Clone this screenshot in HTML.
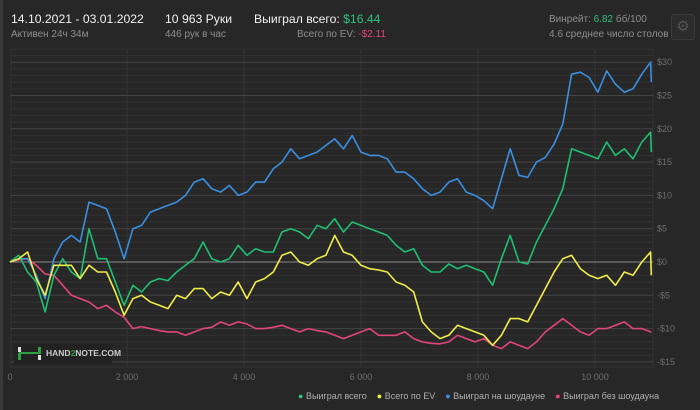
<!DOCTYPE html>
<html><head><meta charset="utf-8"><style>
body{margin:0;width:700px;height:410px;background:#272727;font-family:"Liberation Sans","DejaVu Sans",sans-serif;overflow:hidden;position:relative}
.t{position:absolute;white-space:nowrap}
.w{color:#f2f2f2;font-size:12.2px}
.g{color:#8e8e8e;font-size:10px}
</style></head><body>
<div style="position:absolute;left:0;top:0;width:3px;height:410px;background:#3a3a3a"></div>
<div class="t w" style="left:11px;top:12px">14.10.2021 - 03.01.2022</div>
<div class="t g" style="left:11px;top:29px">Активен 24ч 34м</div>
<div class="t w" style="left:165px;top:12px">10 963 Руки</div>
<div class="t g" style="left:165px;top:29px">446 рук в час</div>
<div class="t w" style="left:254px;top:12px">Выиграл всего: <span style="color:#2ec27e">$16.44</span></div>
<div class="t g" style="left:297px;top:29px">Всего по EV: <span style="color:#e0457b">-$2.11</span></div>
<div class="t g" style="left:549px;top:14px">Винрейт: <span style="color:#2ec27e">6.82</span> бб/100</div>
<div class="t g" style="left:549px;top:29px">4.6 среднее число столов</div>
<div style="position:absolute;left:671px;top:14px;width:22px;height:24px;border:1px solid #3a3a3a;border-radius:3px;background:#2c2c2c;color:#555;font-size:15px;text-align:center;line-height:24px">⚙</div>
<svg id="chart" width="700" height="410" style="position:absolute;left:0;top:0"></svg>
<div style="position:absolute;left:14px;top:344px;width:98px;height:20px;background:#222;">
 <div style="position:absolute;left:4px;top:3px;width:3px;height:5px;background:#ddd"></div>
 <div style="position:absolute;left:4px;top:9px;width:3px;height:7px;background:#2ea043"></div>
 <div style="position:absolute;left:5px;top:8px;width:20px;height:2px;background:#2ea043"></div>
 <div style="position:absolute;left:24px;top:3px;width:3px;height:7px;background:#2ea043"></div>
 <div style="position:absolute;left:24px;top:11px;width:3px;height:5px;background:#ddd"></div>
 <div class="t" style="left:32px;top:4px;font-size:8.5px;font-weight:bold;color:#ccc">HAND<span style="color:#2ea043">2</span>NOTE.COM</div>
</div>
<div class="t" style="left:298px;top:391px;font-size:9px;color:#b0b0b0">
 <span><span style="color:#2ec27e">●</span> Выиграл всего</span>&nbsp;&nbsp;&nbsp;
 <span><span style="color:#f0ec4a">●</span> Всего по EV</span>&nbsp;&nbsp;&nbsp;
 <span><span style="color:#3b8fe0">●</span> Выиграл на шоудауне</span>&nbsp;&nbsp;&nbsp;
 <span><span style="color:#e0457b">●</span> Выиграл без шоудауна</span>
</div>
<script>
const hands=[0,150,300,450,600,750,900,1050,1200,1350,1500,1650,1800,1950,2100,2250,2400,2550,2700,2850,3000,3150,3300,3450,3600,
3750,3900,4050,4200,4350,4500,4650,4800,4950,5100,5250,5400,5550,5700,5850,6000,6150,6300,6450,6600,6750,6900,7050,7200,7350,7500,
7650,7800,7950,8100,8250,8400,8550,8700,8850,9000,9150,9300,9450,9600,9750,9900,10050,10200,10350,10500,10650,10800,10950,10963];
const showdown=[0,0.5,0.5,-2,-5.5,0.5,3,4,3,9,8.5,8,4.5,0.5,5,5.5,7.5,8,8.5,9,10,12,12.5,11,10.5,
11.5,10,10.5,12,12,14,15,17,15.5,16,16.5,17.5,18.5,17,19,16.5,16,16,15.5,13.5,13.5,12.5,11,10,10.5,12,
12.5,10.5,10,9.2,8,12.5,17,13,12.7,15,15.7,17.7,20.7,28.2,28.5,27.7,25.5,28.7,26.7,25.5,26,28.2,30,27];
const total=[0,1,-1.5,-3,-7.5,-2,0.5,-1.5,-2.5,5,0.5,0.5,-3,-6.5,-3.5,-4.5,-3,-2.5,-2.8,-1.5,-0.5,0.5,3,0.5,0,
0.5,2.5,1,2,1.5,1.5,4.5,5,4.5,3.5,5.5,5,6.5,4.5,6,5.5,5,4.5,4,2.5,1.5,2,-0.5,-1.5,-1.5,-0.3,
-1,-0.5,-1,-1.5,-3.5,0.5,4,0,-0.3,3,5.5,8,11,17,16.5,16,15.5,18,16,17,15.5,18,19.5,16.5];
const ev=[0,0.5,1.5,-2.5,-5,-0.5,-0.5,-0.5,-2.5,-0.5,-1.5,-1.5,-4.5,-8,-5.5,-5,-6,-6.5,-7,-5,-5.5,-4,-4,-5.5,-4.5,
-5,-3,-5.5,-3,-2.5,-1.5,1,1.5,0,-0.5,0.5,1,4,1.5,1,-0.5,-1,-1.2,-1.5,-3,-3.5,-4.5,-9,-10.5,-11.5,-11,
-9.5,-10,-10.5,-11,-12.5,-11,-8.5,-8.5,-9,-6.5,-4,-1.5,0.5,1,-1,-2,-2.5,-2,-3.5,-1.5,-2,0,1.5,-2];
const nonshowdown=[0,0.3,0.5,-0.5,-1.8,-2,-3.5,-5,-5.5,-6,-7,-6.5,-7.5,-8.3,-10,-9.7,-10,-10.3,-10.5,-10.5,-11,-10.5,-10,-9.8,-9,
-9.5,-9,-9.3,-10,-10,-9.8,-9.5,-10,-10.5,-10,-10.3,-10.5,-11,-11.5,-11,-10.5,-10,-11,-11,-11,-10.5,-11.5,-12,-12.2,-12.3,-12,
-11,-11.5,-12,-11.5,-12.5,-13,-12,-12.5,-13,-12,-10.5,-9.5,-8.5,-9.5,-10.5,-11,-10,-10,-9.5,-9,-10,-10,-10.5,-10.5];
const xTicks=[0,2000,4000,6000,8000,10000];
const xTickLabels=["0","2 000","4 000","6 000","8 000","10 000"];
const yTicks=[30,25,20,15,10,5,0,-5,-10,-15];
const yTickLabels=["$30","$25","$20","$15","$10","$5","$0","-$5","-$10","-$15"];

const svg=document.getElementById('chart');
const NS='http://www.w3.org/2000/svg';
const X=h=>10+h*0.0585;
const Y=v=>262-v*6.66;
function mk(tag,attrs,parent){const e=document.createElementNS(NS,tag);for(const k in attrs)e.setAttribute(k,attrs[k]);(parent||svg).appendChild(e);return e;}
const frame=mk('rect',{x:11,y:49,width:642,height:318,fill:'none',stroke:'#333','stroke-width':1});


for(let v=-15;v<=32;v++){
  if(v%5===0)continue;
  const l=mk('line',{x1:11,x2:653,y1:Y(v),y2:Y(v),stroke:'#303030','stroke-width':1});
  
  
}
xTicks.forEach((t,i)=>{
  if(i>0){const l=mk('line',{x1:X(t),x2:X(t),y1:49,y2:367,stroke:'#343434','stroke-width':1});
  
  }
  const tx=mk('text',{x:X(t),y:380,fill:'#6e6e6e','font-size':9,'text-anchor':'middle','font-family':'Liberation Sans, sans-serif'});
  tx.textContent=xTickLabels[i];
  
  
});
yTicks.forEach((t,i)=>{
  const l=mk('line',{x1:11,x2:653,y1:Y(t),y2:Y(t),stroke:t===0?'#8a8a8a':'#444','stroke-width':1});
  
  
  const tx=mk('text',{x:657,y:Y(t)+3,fill:'#6e6e6e','font-size':9,'font-family':'Liberation Sans, sans-serif'});
  tx.textContent=yTickLabels[i];
  
  
});
function line(arr,color,name){
  const d=arr.map((v,i)=>(i?'L':'M')+X(hands[i]).toFixed(1)+' '+Y(v).toFixed(1)).join(' ');
  const p=mk('path',{d:d,fill:'none',stroke:color,'stroke-width':1.6,'stroke-linejoin':'round'});
  
  
}
line(nonshowdown,'#e0457b','line-won-without-showdown');
line(showdown,'#3b8fe0','line-won-at-showdown');
line(total,'#1fbf73','line-won-total');
line(ev,'#f0ec4a','line-total-ev');
</script>
</body></html>
